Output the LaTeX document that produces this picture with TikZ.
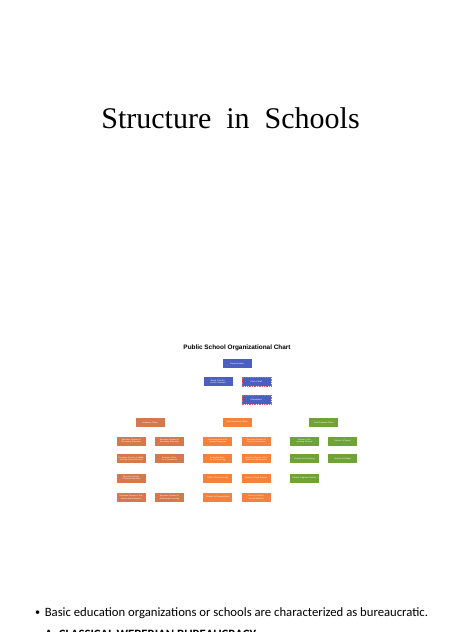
\documentclass[tikz,border=0pt]{standalone}
\usepackage{fontspec}
\setmainfont{Liberation Serif}
\newfontfamily\arialf{Liberation Sans}
\newfontfamily\calibrif{Carlito}
\usetikzlibrary{backgrounds}
\definecolor{boxblue}{HTML}{4A5FC1}
\definecolor{boxacad}{HTML}{D5784C}
\definecolor{boxops}{HTML}{F5813A}
\definecolor{boxfin}{HTML}{6FA337}
\definecolor{linkblue}{HTML}{9CC3E5}
\definecolor{dashred}{HTML}{E0566A}
\tikzset{
  orgbox/.style={minimum width=29pt, minimum height=9pt, inner sep=0.3pt,
    text width=27pt, align=center, text=white,
    font=\arialf\fontsize{2}{2.4}\selectfont},
  bluebox/.style={orgbox, fill=boxblue},
  redbox/.style={orgbox, fill=boxblue, draw=dashred, line width=0.4pt, dash pattern=on 1pt off 0.7pt},
  acadbox/.style={orgbox, fill=boxacad},
  opsbox/.style={orgbox, fill=boxops},
  finbox/.style={orgbox, fill=boxfin},
  link/.style={draw=linkblue, line width=0.6pt},
  graylink/.style={draw=gray!60, line width=0.5pt}
}
\begin{document}
\begin{tikzpicture}[x=1pt,y=-1pt]
\useasboundingbox[fill=white] (0,0) rectangle (474,632);
% titles
\node[font=\fontsize{30}{34}\selectfont, inner sep=0] (title) at (230.5,118) {Structure\ \ in\ \ Schools};
\node[font=\arialf\bfseries\fontsize{6.4}{7}\selectfont, inner sep=0] (ctitle) at (237,348) {Public School Organizational Chart};
% top boxes
\node[bluebox] (sup) at (237,363.8) {Superintendent};
\node[bluebox] (ea) at (218,381.8) {Board Chief Executive Assistant};
\node[redbox] (cos) at (256.2,381.8) {Chief of Staff};
\node[redbox] (omb) at (256.2,399.8) {Ombudsman};
% column heads
\node[acadbox] (acad) at (150.2,422.3) {Academic Officer};
\node[opsbox] (ops) at (237.2,422.3) {Chief Operations Officer};
\node[finbox] (fin) at (323.8,422.3) {Chief Financial Officer};
% academic
\node[acadbox] (a1l) at (131.2,441) {Executive Director of Elementary Education};
\node[acadbox] (a1r) at (169.5,441) {Executive Director of Secondary Education};
\node[acadbox] (a2l) at (131.2,458.8) {Executive Director of Middle and High School Services};
\node[acadbox] (a2r) at (169.5,458.8) {Executive Director of Academics};
\node[acadbox] (a3l) at (131.2,478) {Executive Director of Special Education};
\node[acadbox] (a4l) at (131.2,497.3) {Executive Director of Curriculum and Instruction};
\node[acadbox] (a4r) at (169.5,497.3) {Executive Director of Professional Learning};
% operations
\node[opsbox] (o1l) at (217.8,441) {Executive Director of Human Resources};
\node[opsbox] (o1r) at (256.2,441) {Executive Director of School Construction};
\node[opsbox] (o2l) at (217.8,458.8) {Executive Director of Technology};
\node[opsbox] (o2r) at (256.2,458.8) {Executive Director of Facilities and Maintenance};
\node[opsbox] (o3l) at (217.8,478) {Chief of Police/Security};
\node[opsbox] (o3r) at (256.2,478) {Director of Food Services};
\node[opsbox] (o4l) at (217.8,497.3) {Director of Transportation};
\node[opsbox] (o4r) at (256.2,497.3) {Director of Athletics and Wellness};
% finance
\node[finbox] (f1l) at (304.5,441) {Director of Accounting Services};
\node[finbox] (f1r) at (342.7,441) {Director of Payroll};
\node[finbox] (f2l) at (304.5,458.8) {Director of Purchasing};
\node[finbox] (f2r) at (342.7,458.8) {Director of Budget};
\node[finbox] (f3l) at (304.5,478) {Federal Programs Director};
% bus coordinates
\coordinate (busM) at (237,411.8);
\coordinate (busL) at (acad.north |- busM);
\coordinate (busR) at (fin.north |- busM);
\begin{pgfonlayer}{background}
\draw[link] (sup.south) -- (busM);
\draw[link] (busL) -- (busR);
\draw[link] (busL) -- (acad.north);
\draw[link] (busR) -- (fin.north);
\draw[graylink] (ea.east) -- (cos.west);
\draw[graylink] (cos.south) -- (omb.north);
\draw[link] (acad.south) -- (acad.south |- a4l.east);
\draw[link] (ops.south) -- (ops.south |- o4l.east);
\draw[link] (fin.south) -- (fin.south |- f2l.east);
\draw[link] (a1l.east) -- (a1r.west);
\draw[link] (a2l.east) -- (a2r.west);
\draw[link] (a3l.east) -- (a3l.east -| acad.south);
\draw[link] (a4l.east) -- (a4r.west);
\draw[link] (o1l.east) -- (o1r.west);
\draw[link] (o2l.east) -- (o2r.west);
\draw[link] (o3l.east) -- (o3r.west);
\draw[link] (o4l.east) -- (o4r.west);
\draw[link] (f1l.east) -- (f1r.west);
\draw[link] (f2l.east) -- (f2r.west);
\end{pgfonlayer}
% bullets
\node[font=\calibrif\fontsize{12.7}{15}\selectfont, anchor=west, inner sep=0] (b1) at (35,613.5) {\raisebox{1pt}{\scalebox{0.8}{\textbullet}}\hspace{4.5pt}Basic education organizations or schools are characterized as bureaucratic.};
\node[font=\calibrif\bfseries\fontsize{12.7}{15}\selectfont, anchor=west, inner sep=0] (b2) at (35,634) {\raisebox{1pt}{\scalebox{0.8}{\textbullet}}\hspace{4.5pt}A. CLASSICAL WEBERIAN BUREAUCRACY};
\end{tikzpicture}
\end{document}
